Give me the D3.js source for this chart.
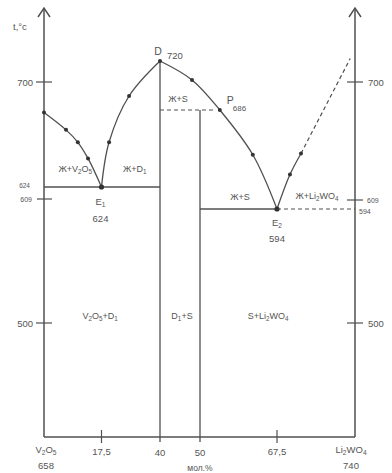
<!DOCTYPE html>
<html>
<head>
<meta charset="utf-8">
<script src="https://cdn.jsdelivr.net/npm/d3@7"></script>
<style>
  html, body { margin: 0; padding: 0; background: #fff; }
  svg { display: block; }
  text { font-family: "Liberation Sans", Arial, sans-serif; fill: #555; }
</style>
</head>
<body>
<svg id="chart" width="392" height="473"></svg>
<script>
// Phase diagram V2O5 – Li2WO4 (composition in mol.%, temperature in °C)

// Axis break points of the (non-uniform) composition and temperature axes
const compBreaks = [0, 17.5, 40, 50, 67.5, 100];
const tempBreaks = [405, 500, 594, 609, 624, 686, 700, 720, 764];

// Tick labels
const compTicks = [17.5, 40, 50, 67.5];
const compTickLabels = ["17,5", "40", "50", "67,5"];
const tempTicks = [500, 700];

// Liquidus branches: [mol.% Li2WO4, t °C]
const liqV2O5 = [[0, 684], [6.7, 670], [10.3, 660], [13.4, 647], [17.5, 624]];
const liqD1 = [[17.5, 624], [20.4, 660], [28.1, 693], [40, 720]];
const liqS = [[40, 720], [48, 702], [54.5, 686], [62, 650], [67.5, 594]];
const liqLiW = [[67.5, 594], [72.9, 634], [77.5, 651]];
const liqLiWExtrap = [[77.5, 651], [98, 722]];

// Experimental points
const dots = [[0, 684], [6.7, 670], [10.3, 660], [13.4, 647], [17.5, 624],
              [20.4, 660], [28.1, 693], [40, 720], [48, 702], [54.5, 686],
              [62, 650], [67.5, 594], [72.9, 634], [77.5, 651]];

// Invariant points and special temperatures
const eutectic1 = { x: 17.5, t: 624 };
const eutectic2 = { x: 67.5, t: 594 };
const congruent = { x: 40, t: 720 };
const peritectic = { x: 54.5, t: 686 };
const solidusSide = 609;

// Phase field labels: [text, x, t]
const fields = [
  ["Ж+V_2O_5", 9.5, 636],
  ["Ж+D_1", 30.3, 636],
  ["Ж+S", 44.5, 690],
  ["Ж+S", 59.1, 608],
  ["Ж+Li_2WO_4", 84.2, 609],
  ["V_2O_5+D_1", 17.1, 503],
  ["D_1+S", 45.5, 503],
  ["S+Li_2WO_4", 65.5, 503]
];

const svg = d3.select("#chart");
const ink = "#505050";

const x = d3.scaleLinear().domain(compBreaks).range([44, 101.5, 160, 200, 277, 355]);
const y = d3.scaleLinear().domain(tempBreaks).range([437, 323, 209, 199, 187, 110, 82, 61, 8]);

// text with "_c" marking a subscript character
function rich(g, str, fs) {
  const t = g.append("text").attr("font-size", fs);
  const parts = str.split(/(_.)/).filter(s => s.length);
  let sub = false;
  parts.forEach(p => {
    if (p[0] === "_") {
      t.append("tspan").attr("font-size", fs * 0.7).attr("dy", sub ? 0 : 2).text(p[1]);
      sub = true;
    } else {
      t.append("tspan").attr("dy", sub ? -2 : 0).text(p);
      sub = false;
    }
  });
  return t;
}

const x0 = x(0), x1 = x(100), yb = y(405), yt = y(764);

// axes frame
const axes = svg.append("g").attr("stroke", ink).attr("stroke-width", 1.5).attr("fill", "none");
axes.append("line").attr("x1", x0).attr("x2", x0).attr("y1", yb).attr("y2", yt);
axes.append("line").attr("x1", x1).attr("x2", x1).attr("y1", yb).attr("y2", yt);
axes.append("line").attr("x1", x0).attr("x2", x1).attr("y1", yb).attr("y2", yb);
[x0, x1].forEach(ax => {
  axes.append("path").attr("d", `M${ax - 6},${yt + 9}L${ax},${yt}L${ax + 6},${yt + 9}`);
});

// temperature ticks on both sides
const tick = svg.append("g").attr("stroke", ink).attr("stroke-width", 1.2);
tempTicks.forEach(t => {
  tick.append("line").attr("x1", x0 - 8).attr("x2", x0 + 8).attr("y1", y(t)).attr("y2", y(t));
  tick.append("line").attr("x1", x1 - 8).attr("x2", x1 + 8).attr("y1", y(t)).attr("y2", y(t));
  svg.append("text").attr("x", x0 - 11).attr("y", y(t) + 3.5).attr("text-anchor", "end")
    .attr("font-size", 9.5).text(t);
  svg.append("text").attr("x", x1 + 13).attr("y", y(t) + 3.5).attr("text-anchor", "start")
    .attr("font-size", 9.5).text(t);
});
tick.append("line").attr("x1", x0 - 7).attr("x2", x0 + 8).attr("y1", y(solidusSide)).attr("y2", y(solidusSide));
tick.append("line").attr("x1", x1 - 8).attr("x2", x1 + 8).attr("y1", y(solidusSide) + 1).attr("y2", y(solidusSide) + 1);
svg.append("text").attr("x", x0 - 12).attr("y", y(solidusSide) + 3).attr("text-anchor", "end")
  .attr("font-size", 7).text(solidusSide);
svg.append("text").attr("x", x0 - 14).attr("y", y(eutectic1.t) + 1).attr("text-anchor", "end")
  .attr("font-size", 6.5).text(eutectic1.t);
svg.append("text").attr("x", x1 + 12).attr("y", y(solidusSide) + 3.5).attr("font-size", 7).text(solidusSide);
svg.append("text").attr("x", x1 + 4).attr("y", y(eutectic2.t) + 5).attr("font-size", 7).text(eutectic2.t);

// composition ticks
compTicks.forEach((c, i) => {
  if (c === 17.5 || c === 67.5) {
    tick.append("line").attr("x1", x(c)).attr("x2", x(c)).attr("y1", yb - 7).attr("y2", yb + 6);
  }
  svg.append("text").attr("x", x(c)).attr("y", yb + 18 + (c === 40 || c === 50 ? 1 : 0))
    .attr("text-anchor", "middle").attr("font-size", 9.5).text(compTickLabels[i]);
});

// end-member labels
rich(svg.append("g"), "V_2O_5", 9.5).attr("x", x0 + 2).attr("y", yb + 16).attr("text-anchor", "middle");
svg.append("text").attr("x", x0 + 2).attr("y", yb + 32).attr("text-anchor", "middle").attr("font-size", 9.5).text("658");
rich(svg.append("g"), "Li_2WO_4", 9.5).attr("x", x1 - 4).attr("y", yb + 16).attr("text-anchor", "middle");
svg.append("text").attr("x", x1 - 4).attr("y", yb + 32).attr("text-anchor", "middle").attr("font-size", 9.5).text("740");
svg.append("text").attr("x", x(50)).attr("y", 471).attr("text-anchor", "middle").attr("font-size", 8.5).text("мол.%");
svg.append("text").attr("x", 13).attr("y", 30).attr("font-size", 9.5).text("t,°c");

// solidus / phase boundary lines
const lines = svg.append("g").attr("stroke", ink).attr("stroke-width", 1.3).attr("fill", "none");
lines.append("line").attr("x1", x0).attr("x2", x(congruent.x)).attr("y1", y(eutectic1.t)).attr("y2", y(eutectic1.t));
lines.append("line").attr("x1", x(congruent.x)).attr("x2", x(congruent.x)).attr("y1", y(congruent.t)).attr("y2", yb + 5);
lines.append("line").attr("x1", x(50)).attr("x2", x(50)).attr("y1", y(peritectic.t)).attr("y2", yb + 5);
lines.append("line").attr("x1", x(50)).attr("x2", x(eutectic2.x)).attr("y1", y(eutectic2.t)).attr("y2", y(eutectic2.t));

const dashed = svg.append("g").attr("stroke", ink).attr("stroke-width", 1.2)
  .attr("stroke-dasharray", "4,3").attr("fill", "none");
dashed.append("line").attr("x1", x(congruent.x)).attr("x2", x(53.2)).attr("y1", y(peritectic.t)).attr("y2", y(peritectic.t));
dashed.append("line").attr("x1", x(eutectic2.x)).attr("x2", x1).attr("y1", y(eutectic2.t)).attr("y2", y(eutectic2.t));

// liquidus curves
const curve = d3.line().x(d => x(d[0])).y(d => y(d[1])).curve(d3.curveCatmullRom.alpha(0.5));
[liqV2O5, liqD1, liqS, liqLiW].forEach(seg => {
  lines.append("path").attr("d", curve(seg));
});
dashed.append("path").attr("d", d3.line().x(d => x(d[0])).y(d => y(d[1]))(liqLiWExtrap));

// experimental points
svg.append("g").attr("fill", "#333").selectAll("circle").data(dots).join("circle")
  .attr("cx", d => x(d[0])).attr("cy", d => y(d[1]))
  .attr("r", d => (d[0] === 17.5 || d[0] === 67.5) ? 2.6 : 2);

// invariant point labels
rich(svg.append("g"), "E_1", 9.5).attr("x", x(eutectic1.x) - 1).attr("y", y(eutectic1.t) + 18).attr("text-anchor", "middle");
svg.append("text").attr("x", x(eutectic1.x) - 1).attr("y", y(eutectic1.t) + 35).attr("text-anchor", "middle")
  .attr("font-size", 9.5).text(eutectic1.t);
rich(svg.append("g"), "E_2", 9.5).attr("x", x(eutectic2.x)).attr("y", y(eutectic2.t) + 17).attr("text-anchor", "middle");
svg.append("text").attr("x", x(eutectic2.x)).attr("y", y(eutectic2.t) + 33).attr("text-anchor", "middle")
  .attr("font-size", 9.5).text(eutectic2.t);
svg.append("text").attr("x", x(congruent.x) - 2).attr("y", y(congruent.t) - 6).attr("text-anchor", "middle")
  .attr("font-size", 10.5).text("D");
svg.append("text").attr("x", x(congruent.x) + 7).attr("y", y(congruent.t) - 2)
  .attr("font-size", 9.5).text(congruent.t);
svg.append("text").attr("x", x(peritectic.x) + 7).attr("y", y(peritectic.t) - 6)
  .attr("font-size", 10.5).text("P");
svg.append("text").attr("x", x(peritectic.x) + 13).attr("y", y(peritectic.t) + 1)
  .attr("font-size", 8).text(peritectic.t);

// phase field labels
fields.forEach(([s, c, t]) => {
  rich(svg.append("g"), s, 9).attr("x", x(c)).attr("y", y(t)).attr("text-anchor", "middle");
});
</script>
</body>
</html>
